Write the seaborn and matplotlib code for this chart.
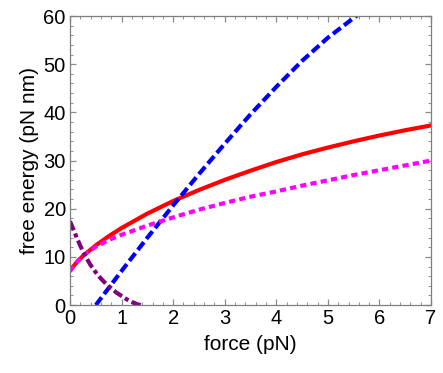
import seaborn as sns
import matplotlib.pyplot as plt
import pandas as pd
from matplotlib.ticker import MultipleLocator

# values
force_a = [0, 0.1, 0.25, 0.5, 0.75, 1, 1.5, 2, 2.5, 3, 3.5, 4, 4.5, 5, 5.5, 6, 6.5, 7]
red_solid = [7.2, 8.5, 10.2, 12.4, 14.3, 16.0, 19.0, 21.6, 23.9, 26.0, 27.9, 29.7,
             31.3, 32.7, 34.0, 35.2, 36.3, 37.3]
magenta_dotted = [7.0, 8.6, 10.3, 12.1, 13.5, 14.6, 16.5, 18.2, 19.8, 21.2, 22.5, 23.6,
                  24.8, 25.9, 27.0, 28.0, 29.0, 30.0]

force_b = [0.5, 1, 1.5, 2, 2.5, 3, 3.5, 4, 4.5, 5, 5.5, 5.6]
blue_dashed = [0.0, 7.1, 14.0, 20.7, 27.2, 33.5, 39.6, 45.3, 50.7, 55.5, 59.6, 60.4]

force_c = [0, 0.1, 0.2, 0.3, 0.4, 0.5, 0.6, 0.7, 0.8, 0.9, 1.0, 1.1, 1.2, 1.3, 1.37]
purple_dashdot = [17.4, 14.8, 12.3, 10.1, 8.3, 6.8, 5.5, 4.4, 3.5, 2.6, 1.9, 1.2, 0.65,
                  0.2, 0.0]

sns.set_style("ticks")
plt.rcParams["font.family"] = ["Liberation Sans", "DejaVu Sans"]
plt.rcParams["lines.scale_dashes"] = False

fig = plt.figure(figsize=(4.43, 3.73), dpi=100)
ax = fig.add_axes([0.158, 0.182, 0.815, 0.775])

df_a = pd.DataFrame({"force": force_a, "red": red_solid, "magenta": magenta_dotted})
df_b = pd.DataFrame({"force": force_b, "blue": blue_dashed})
df_c = pd.DataFrame({"force": force_c, "purple": purple_dashdot})

lw = 3.0
sns.lineplot(data=df_a, x="force", y="red", ax=ax, color="#ff0000", lw=lw)
sns.lineplot(data=df_b, x="force", y="blue", ax=ax, color="#0000ff", lw=lw,
             linestyle=(0, (7, 3)))
sns.lineplot(data=df_a, x="force", y="magenta", ax=ax, color="#ff00ff", lw=lw,
             linestyle=(0, (4.5, 3)))
sns.lineplot(data=df_c, x="force", y="purple", ax=ax, color="#800080", lw=lw,
             linestyle=(0, (7, 2.5, 3, 2.5)))

ax.set_xlim(0, 7)
ax.set_ylim(0, 60)
ax.xaxis.set_major_locator(MultipleLocator(1))
ax.xaxis.set_minor_locator(MultipleLocator(0.2))
ax.yaxis.set_major_locator(MultipleLocator(10))
ax.yaxis.set_minor_locator(MultipleLocator(2))

# mathematica-like frame: gray, ticks in on every side
for s in ax.spines.values():
    s.set_color("#7f7f7f")
    s.set_linewidth(0.9)
ax.tick_params(which="both", direction="in", top=True, right=True,
               color="#8c8c8c", labelcolor="black", labelsize=14.5, pad=3)
ax.tick_params(which="major", length=4.5, width=0.9)
ax.tick_params(which="minor", length=2.5, width=0.7)

ax.set_xlabel("force (pN)", fontsize=15, labelpad=5, color="black")
ax.set_ylabel("free energy (pN nm)", fontsize=15, labelpad=3, color="black")

fig.savefig("out.png", dpi=100)
